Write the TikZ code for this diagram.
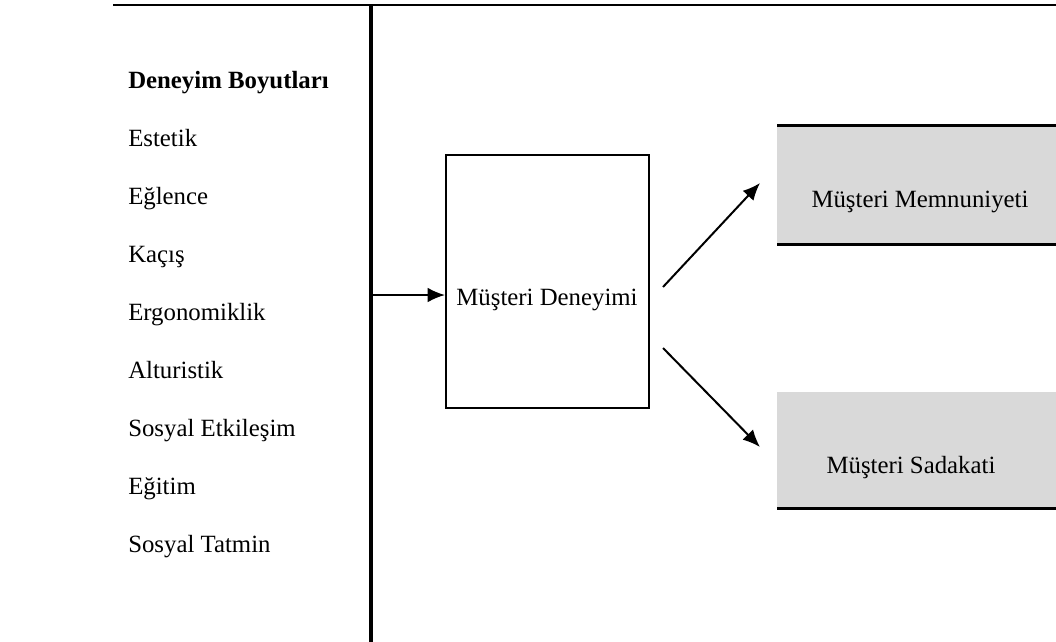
\documentclass[tikz,border=0pt]{standalone}
\usepackage{fontspec}
\setmainfont{Liberation Serif}
\usetikzlibrary{arrows.meta,positioning}
\definecolor{boxgray}{HTML}{D9D9D9}
\tikzset{
	item/.style={anchor=base west, inner sep=0pt, font=\fontsize{18.6}{22}\selectfont},
	flow/.style={line width=1.5pt, -{Latex[length=13pt,width=11pt]}}
}
\begin{document}
\begin{tikzpicture}[x=0.75pt, y=-0.75pt]
	\useasboundingbox (0,0) rectangle (1056,642);
	% frame lines
	\draw[line width=1.5pt] (113,5) -- (1056,5);
	\draw[line width=3pt] (371,5) -- (371,642);
	% dimensions list
	\node[item, font=\fontsize{18.6}{22}\selectfont\bfseries] (head) at (128,89) {Deneyim Boyutları};
	\node[item] (d1) at (128,146) {Estetik};
	\node[item] (d2) at (128,204) {Eğlence};
	\node[item] (d3) at (128,262) {Kaçış};
	\node[item] (d4) at (128,320) {Ergonomiklik};
	\node[item] (d5) at (128,378) {Alturistik};
	\node[item] (d6) at (128,436) {Sosyal Etkileşim};
	\node[item] (d7) at (128,494) {Eğitim};
	\node[item] (d8) at (128,552) {Sosyal Tatmin};
	% central box
	\node[draw, line width=1.5pt, minimum width=152.25pt, minimum height=189.75pt, inner sep=0pt] (dbox) at (547.5,281.5) {};
	\node[item, anchor=base] (dtext) at (547,305) {Müşteri Deneyimi};
	\coordinate (in) at (373,295);
	\draw[flow] (in) -- (in -| dbox.west);
	% outcome boxes (grey, black rule below, first one also above)
	\fill[boxgray] (777,125) rectangle (1056,244);
	\draw[line width=2.25pt] (777,125) -- (1056,125);
	\draw[line width=2.25pt] (777,244) -- (1056,244);
	\node[item, anchor=base] (memn) at (920,207) {Müşteri Memnuniyeti};
	\fill[boxgray] (777,392) rectangle (1056,508);
	\draw[line width=2.25pt] (777,508) -- (1056,508);
	\node[item, anchor=base] (sadak) at (911,473) {Müşteri Sadakati};
	% arrows out of the central box
	\coordinate (up1) at (663,287);
	\coordinate (up2) at (760,183);
	\coordinate (dn1) at (663,348);
	\coordinate (dn2) at (760,447);
	\draw[flow] (up1) -- (up2);
	\draw[flow] (dn1) -- (dn2);
\end{tikzpicture}
\end{document}
